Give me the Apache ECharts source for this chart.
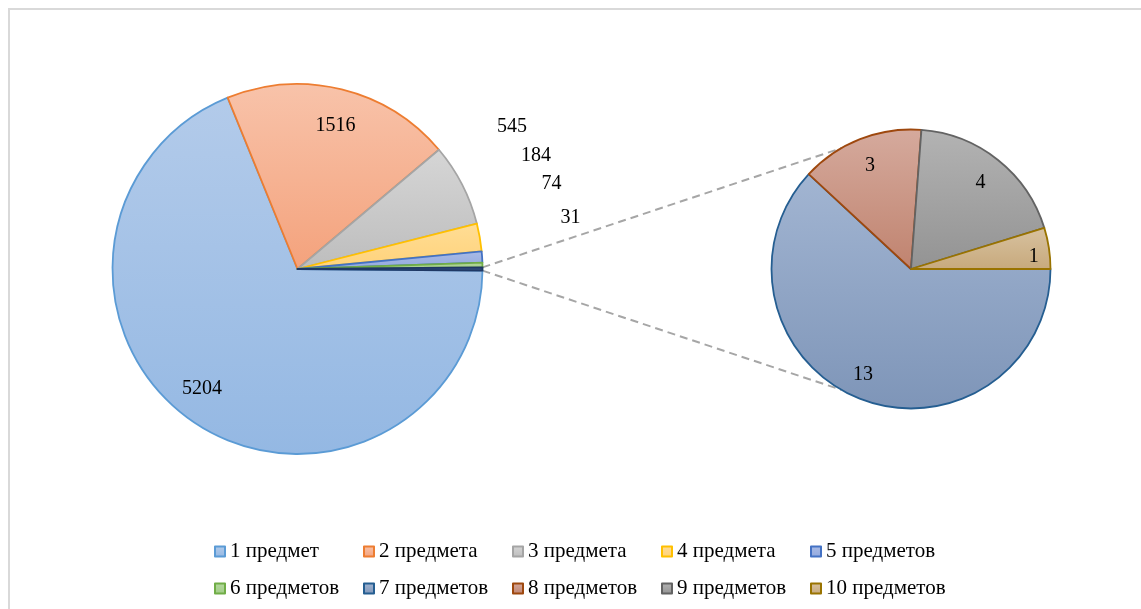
<!DOCTYPE html>
<html>
<head>
<meta charset="utf-8">
<script src="https://cdn.jsdelivr.net/npm/echarts@6/dist/echarts.min.js"></script>
<style>
html,body{margin:0;padding:0;background:#fff;}
#chart{width:1141px;height:609px;}
</style>
</head>
<body>
<div id="chart"></div>
<script>
// ---- data ----
var mainNames = ['1 предмет', '2 предмета', '3 предмета', '4 предмета', '5 предметов', '6 предметов'];
var mainValues = [5204, 1516, 545, 184, 74, 31];
var subNames = ['7 предметов', '8 предметов', '9 предметов', '10 предметов'];
var subValues = [13, 3, 4, 1];
var otherName = 'Другие';

// ---- styles ----
var FONT = '"Liberation Serif", "Times New Roman", serif';
var mainStyles = [
  ['#b3cbea', '#94b8e3', '#5b9bd5'],
  ['#f8c3aa', '#f4a27c', '#ed7d31'],
  ['#d6d6d6', '#bdbdbd', '#a5a5a5'],
  ['#ffdd95', '#ffd27a', '#ffc000'],
  ['#a9bbe6', '#93a9de', '#4472c4'],
  ['#b5d8a0', '#a0cc85', '#70ad47']
];
var otherStyle = ['#3c5a8a', '#2e4a78', '#1f3864'];
var subStyles = [
  ['#a2b5d2', '#7e95b8', '#255e91'],
  ['#d5aa9d', '#c0836f', '#9e480e'],
  ['#b3b3b3', '#939393', '#636363'],
  ['#d8c2a0', '#c7a97c', '#997300']
];
// layout
var mainC = [297.5, 269], mainR = 185;
var subC = [911, 269], subR = 139.5;
var mainLabelOffsets = [[-95.5, 120], [38, -143.5], [214.5, -142], [238.5, -113.4], [254, -85], [273, -51.7]];
var subLabelOffsets = [[-48, 106], [-41, -103.3], [69.5, -86], [122.7, -12.3]];
var connectorEndAngle = 120; // degrees on the secondary pie
var legendLeft = 214, legendPitch = 149, legendTops = [541, 578], legendPerRow = 5;

function grad(s) {
  return {
    color: {type: 'linear', x: 0, y: 0, x2: 0, y2: 1,
      colorStops: [{offset: 0, color: s[0]}, {offset: 1, color: s[1]}]},
    borderColor: s[2], borderWidth: 1.8
  };
}

var otherValue = subValues.reduce(function (a, b) { return a + b; }, 0);
var total = mainValues.reduce(function (a, b) { return a + b; }, 0) + otherValue;
var halfOther = otherValue / total * 180; // degrees

var mainData = mainNames.map(function (n, i) {
  return {name: n, value: mainValues[i], itemStyle: grad(mainStyles[i])};
});
mainData.push({name: otherName, value: otherValue, itemStyle: grad(otherStyle), label: {show: false}});
var subData = subNames.map(function (n, i) {
  return {name: n, value: subValues[i], itemStyle: grad(subStyles[i])};
});

function rad(d) { return d * Math.PI / 180; }
var p1 = [mainC[0] + mainR * Math.cos(rad(-halfOther)), mainC[1] + mainR * Math.sin(rad(-halfOther))];
var p2 = [mainC[0] + mainR * Math.cos(rad(halfOther)), mainC[1] + mainR * Math.sin(rad(halfOther))];
var q1 = [subC[0] + subR * Math.cos(rad(-connectorEndAngle)), subC[1] + subR * Math.sin(rad(-connectorEndAngle))];
var q2 = [subC[0] + subR * Math.cos(rad(connectorEndAngle)), subC[1] + subR * Math.sin(rad(connectorEndAngle))];

var labelStyle = {show: true, formatter: '{c}', color: '#000', fontFamily: FONT, fontSize: 20};
var legendText = {fontFamily: FONT, fontSize: 21, color: '#000'};

var legendNames = mainNames.concat(subNames);
var legends = legendNames.map(function (n, i) {
  return {
    data: [n], left: legendLeft + (i % legendPerRow) * legendPitch,
    top: legendTops[Math.floor(i / legendPerRow)],
    itemWidth: 10, itemHeight: 10, itemGap: 5, icon: 'rect',
    textStyle: legendText, selectedMode: false, padding: 0
  };
});

var chart = echarts.init(document.getElementById('chart'), null, {renderer: 'canvas'});
chart.setOption({
  animation: false,
  backgroundColor: '#fff',
  legend: legends,
  graphic: [
    {type: 'rect', shape: {x: 9, y: 9, width: 1200, height: 700}, style: {fill: 'none', stroke: '#d9d9d9', lineWidth: 2}, z: -10},
    {type: 'line', shape: {x1: p1[0], y1: p1[1], x2: q1[0], y2: q1[1]},
     style: {stroke: '#a6a6a6', lineWidth: 2, lineDash: [8, 5]}, z: -1},
    {type: 'line', shape: {x1: p2[0], y1: p2[1], x2: q2[0], y2: q2[1]},
     style: {stroke: '#a6a6a6', lineWidth: 2, lineDash: [8, 5]}, z: -1}
  ],
  series: [
    {
      type: 'pie', name: 'main', center: mainC, radius: [0, mainR],
      startAngle: -halfOther, clockwise: true, avoidLabelOverlap: false,
      label: labelStyle, labelLine: {show: false},
      labelLayout: function (p) {
        var o = mainLabelOffsets[p.dataIndex] || [0, 0];
        return {x: mainC[0] + o[0], y: mainC[1] + o[1], align: 'center', verticalAlign: 'middle'};
      },
      emphasis: {disabled: true},
      data: mainData
    },
    {
      type: 'pie', name: 'sub', center: subC, radius: [0, subR],
      startAngle: 0, clockwise: true, avoidLabelOverlap: false,
      label: labelStyle, labelLine: {show: false},
      labelLayout: function (p) {
        var o = subLabelOffsets[p.dataIndex] || [0, 0];
        return {x: subC[0] + o[0], y: subC[1] + o[1], align: 'center', verticalAlign: 'middle'};
      },
      emphasis: {disabled: true},
      data: subData
    }
  ]
});
</script>
</body>
</html>
